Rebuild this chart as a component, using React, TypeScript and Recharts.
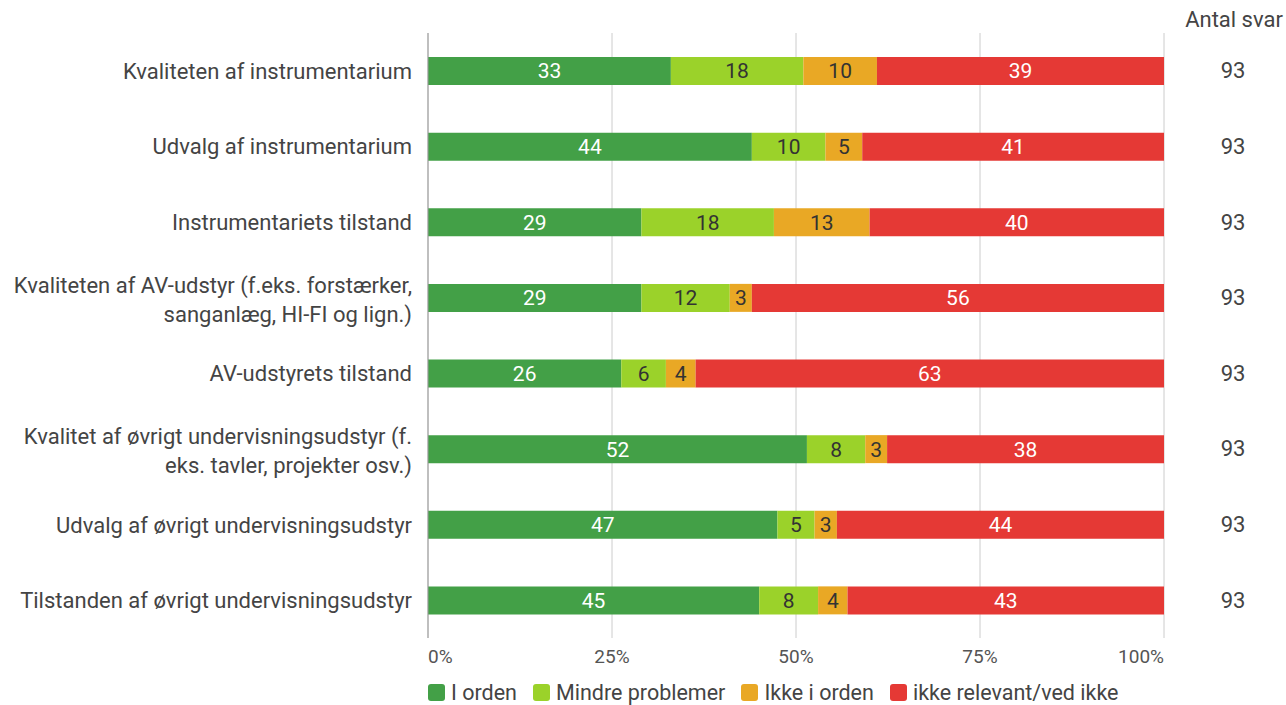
import { Bar, BarChart, CartesianGrid, LabelList, Legend, XAxis, YAxis } from "recharts";

const categories = [
  "Kvaliteten af instrumentarium",
  "Udvalg af instrumentarium",
  "Instrumentariets tilstand",
  "Kvaliteten af AV-udstyr (f.eks. forstærker,\nsanganlæg, HI-FI og lign.)",
  "AV-udstyrets tilstand",
  "Kvalitet af øvrigt undervisningsudstyr (f.\neks. tavler, projekter osv.)",
  "Udvalg af øvrigt undervisningsudstyr",
  "Tilstanden af øvrigt undervisningsudstyr",
];

const iOrden = [33, 44, 29, 29, 26, 52, 47, 45];
const mindre = [18, 10, 18, 12, 6, 8, 5, 8];
const ikkeIOrden = [10, 5, 13, 3, 4, 3, 3, 4];
const ikkeRelevant = [39, 41, 40, 56, 63, 38, 44, 43];
const antalSvar = [93, 93, 93, 93, 93, 93, 93, 93];

const xTicks = [0, 0.25, 0.5, 0.75, 1];

const series = [
  { key: "iOrden", name: "I orden", color: "#43a047", text: "#ffffff" },
  { key: "mindre", name: "Mindre problemer", color: "#9bd22a", text: "#333333" },
  { key: "ikkeIOrden", name: "Ikke i orden", color: "#e9a825", text: "#333333" },
  { key: "ikkeRelevant", name: "ikke relevant/ved ikke", color: "#e53935", text: "#ffffff" },
];

const data = categories.map((name, i) => ({
  name,
  iOrden: iOrden[i],
  mindre: mindre[i],
  ikkeIOrden: ikkeIOrden[i],
  ikkeRelevant: ikkeRelevant[i],
  svar: antalSvar[i],
}));

const LeftTick = ({ x, y, payload }: any) => {
  const lines = String(payload.value).split("\n");
  const lh = 29;
  const start = -((lines.length - 1) * lh) / 2 + (lines.length > 1 ? 2 : 0);
  return (
    <text x={x} y={y} textAnchor="end" fill="#444" fontSize={22} dominantBaseline="central">
      {lines.map((l, i) => (
        <tspan key={i} x={x} dy={i === 0 ? start : lh}>
          {l}
        </tspan>
      ))}
    </text>
  );
};

const RightTick = ({ x, y, payload }: any) => (
  <text x={x + 69} y={y} textAnchor="middle" fill="#444" fontSize={22} dominantBaseline="central">
    {antalSvar[payload.index]}
  </text>
);

const XTick = ({ x, y, payload }: any) => {
  const anchor = payload.value === 0 ? "start" : payload.value === 1 ? "end" : "middle";
  return (
    <text x={x} y={y} textAnchor={anchor} fill="#555" fontSize={19} dominantBaseline="hanging">
      {Math.round(payload.value * 100)}%
    </text>
  );
};

const LegendContent = () => (
  <div style={{ display: "flex", paddingLeft: 428, height: 26, alignItems: "center", gap: 16 }}>
    {series.map((s) => (
      <div key={s.key} style={{ display: "flex", alignItems: "center", gap: 6 }}>
        <span style={{ width: 17, height: 17, borderRadius: 3, background: s.color, display: "inline-block" }} />
        <span style={{ fontSize: 21.5, color: "#444" }}>{s.name}</span>
      </div>
    ))}
  </div>
);

export default function App() {
  return (
    <div style={{ position: "absolute", left: 0, top: 0, fontFamily: "Roboto, sans-serif" }}>
      <BarChart
        width={1286}
        height={705}
        data={data}
        layout="vertical"
        stackOffset="expand"
        margin={{ top: 33, right: 0, left: 0, bottom: 0 }}
      >
        <CartesianGrid horizontal={false} stroke="#cccccc" />
        <XAxis
          type="number"
          domain={[0, 1]}
          ticks={xTicks}
          tick={<XTick />}
          tickLine={false}
          axisLine={false}
          tickSize={0}
          tickMargin={11}
          height={41}
        />
        <YAxis
          yAxisId="left"
          type="category"
          dataKey="name"
          width={428}
          tick={<LeftTick />}
          tickLine={false}
          tickSize={0}
          tickMargin={16}
          axisLine={{ stroke: "#999999" }}
          interval={0}
        />
        <YAxis
          yAxisId="right"
          orientation="right"
          type="category"
          dataKey="name"
          width={122}
          tick={<RightTick />}
          tickLine={false}
          tickSize={0}
          tickMargin={0}
          axisLine={false}
          interval={0}
          label={{ value: "Antal svar", position: "top", dx: 9, dy: -1, fill: "#444", fontSize: 22 }}
        />
        <Legend verticalAlign="bottom" align="left" content={<LegendContent />} />
        {series.map((s) => (
          <Bar
            key={s.key}
            yAxisId="left"
            dataKey={s.key}
            name={s.name}
            stackId="a"
            fill={s.color}
            barSize={28}
            isAnimationActive={false}
          >
            <LabelList dataKey={s.key} position="center" fill={s.text} fontSize={21} />
          </Bar>
        ))}
      </BarChart>
    </div>
  );
}
